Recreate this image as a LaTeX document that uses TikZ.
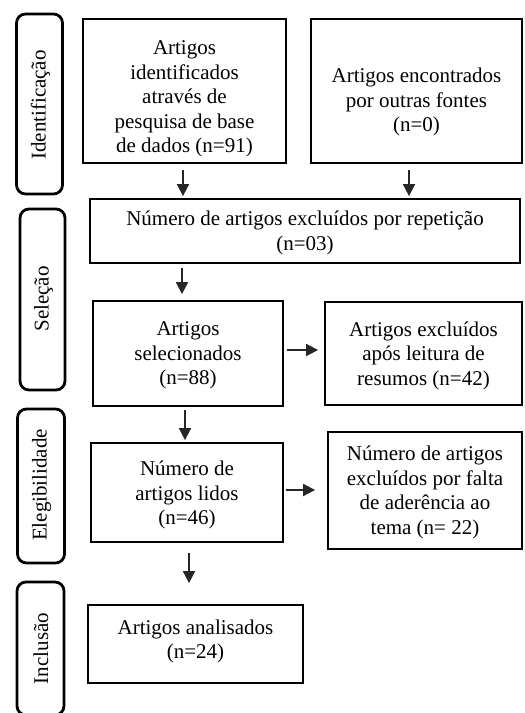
\documentclass[tikz,border=0pt]{standalone}
\usepackage{fontspec}
\setmainfont{Liberation Serif}
\usetikzlibrary{arrows.meta,calc}
\begin{document}
\begin{tikzpicture}[x=1pt,y=-1pt,
  box/.style={draw=black,line width=2.8pt,inner sep=0pt},
  side/.style={draw=black,line width=2.8pt,rounded corners=9pt,inner sep=0pt},
  txt/.style={align=center,font=\fontsize{21}{24.5}\selectfont,inner sep=0pt},
  sidetxt/.style={rotate=90,font=\fontsize{21}{24}\selectfont,inner sep=0pt},
  arr/.style={line width=1.8pt,draw=black!85,-{Triangle[width=12pt,length=12pt]}}]
\useasboundingbox (0,0) rectangle (525,713);
% side phase boxes
\node[side,minimum width=46pt,minimum height=180pt] (s1) at (39.5,104) {};
\node[sidetxt] at (40.5,105) {Identificação};
\node[side,minimum width=45pt,minimum height=181pt] (s2) at (42.5,299.5) {};
\node[sidetxt] at (43.5,299) {Seleção};
\node[side,minimum width=47pt,minimum height=154pt] (s3) at (41,486) {};
\node[sidetxt] at (41.5,485) {Elegibilidade};
\node[side,minimum width=47pt,minimum height=133pt] (s4) at (40.5,648.5) {};
\node[sidetxt] at (41,648.5) {Inclusão};
% boxes
\node[box,minimum width=203pt,minimum height=144pt] (A) at (184.5,91) {};
\node[txt] at (184.5,99) {Artigos\\identificados\\através de\\pesquisa de base\\de dados (n=91)};
\node[box,minimum width=211pt,minimum height=144pt] (B) at (416.5,91) {};
\node[txt] at (416.5,102) {Artigos encontrados\\por outras fontes\\(n=0)};
\node[box,minimum width=430pt,minimum height=64pt] (C) at (305,231) {};
\node[txt] at (305,233) {Número de artigos excluídos por repetição\\(n=03)};
\node[box,minimum width=190pt,minimum height=105pt] (D) at (188,353.5) {};
\node[txt] at (188,355.5) {Artigos\\selecionados\\(n=88)};
\node[box,minimum width=197pt,minimum height=103pt] (E) at (423.5,353.5) {};
\node[txt] at (423.5,355.5) {Artigos excluídos\\após leitura de\\resumos (n=42)};
\node[box,minimum width=192pt,minimum height=99pt] (F) at (187,492.5) {};
\node[txt] at (187,495) {Número de\\artigos lidos\\(n=46)};
\node[box,minimum width=194pt,minimum height=117pt] (G) at (425,490.5) {};
\node[txt] at (425,492.5) {Número de artigos\\excluídos por falta\\de aderência ao\\tema (n= 22)};
\node[box,minimum width=215pt,minimum height=78pt] (H) at (195.5,644) {};
\node[txt] at (195.5,641.5) {Artigos analisados\\(n=24)};
% arrow x positions
\coordinate (xa) at (183,0);
\coordinate (xb) at (409,0);
\coordinate (xc) at (182,0);
\coordinate (xd) at (185,0);
\coordinate (xf) at (189,0);
\coordinate (yd) at (0,350);
\coordinate (yf) at (0,490);
% connectors
\draw[arr,shorten <=5.5pt,shorten >=1.5pt] (A.south -| xa) -- (C.north -| xa);
\draw[arr,shorten <=5.5pt,shorten >=1.5pt] (B.south -| xb) -- (C.north -| xb);
\draw[arr,shorten <=3.5pt,shorten >=5.5pt] (C.south -| xc) -- (D.north -| xc);
\draw[arr,shorten <=2.5pt,shorten >=5.5pt] (D.east |- yd) -- (E.west |- yd);
\draw[arr,shorten <=2.5pt,shorten >=1.5pt] (D.south -| xd) -- (F.north -| xd);
\draw[arr,shorten <=1.5pt,shorten >=11.5pt] (F.east |- yf) -- (G.west |- yf);
\draw[arr,shorten <=9.5pt,shorten >=20.5pt] (F.south -| xf) -- (H.north -| xf);
\end{tikzpicture}
\end{document}
